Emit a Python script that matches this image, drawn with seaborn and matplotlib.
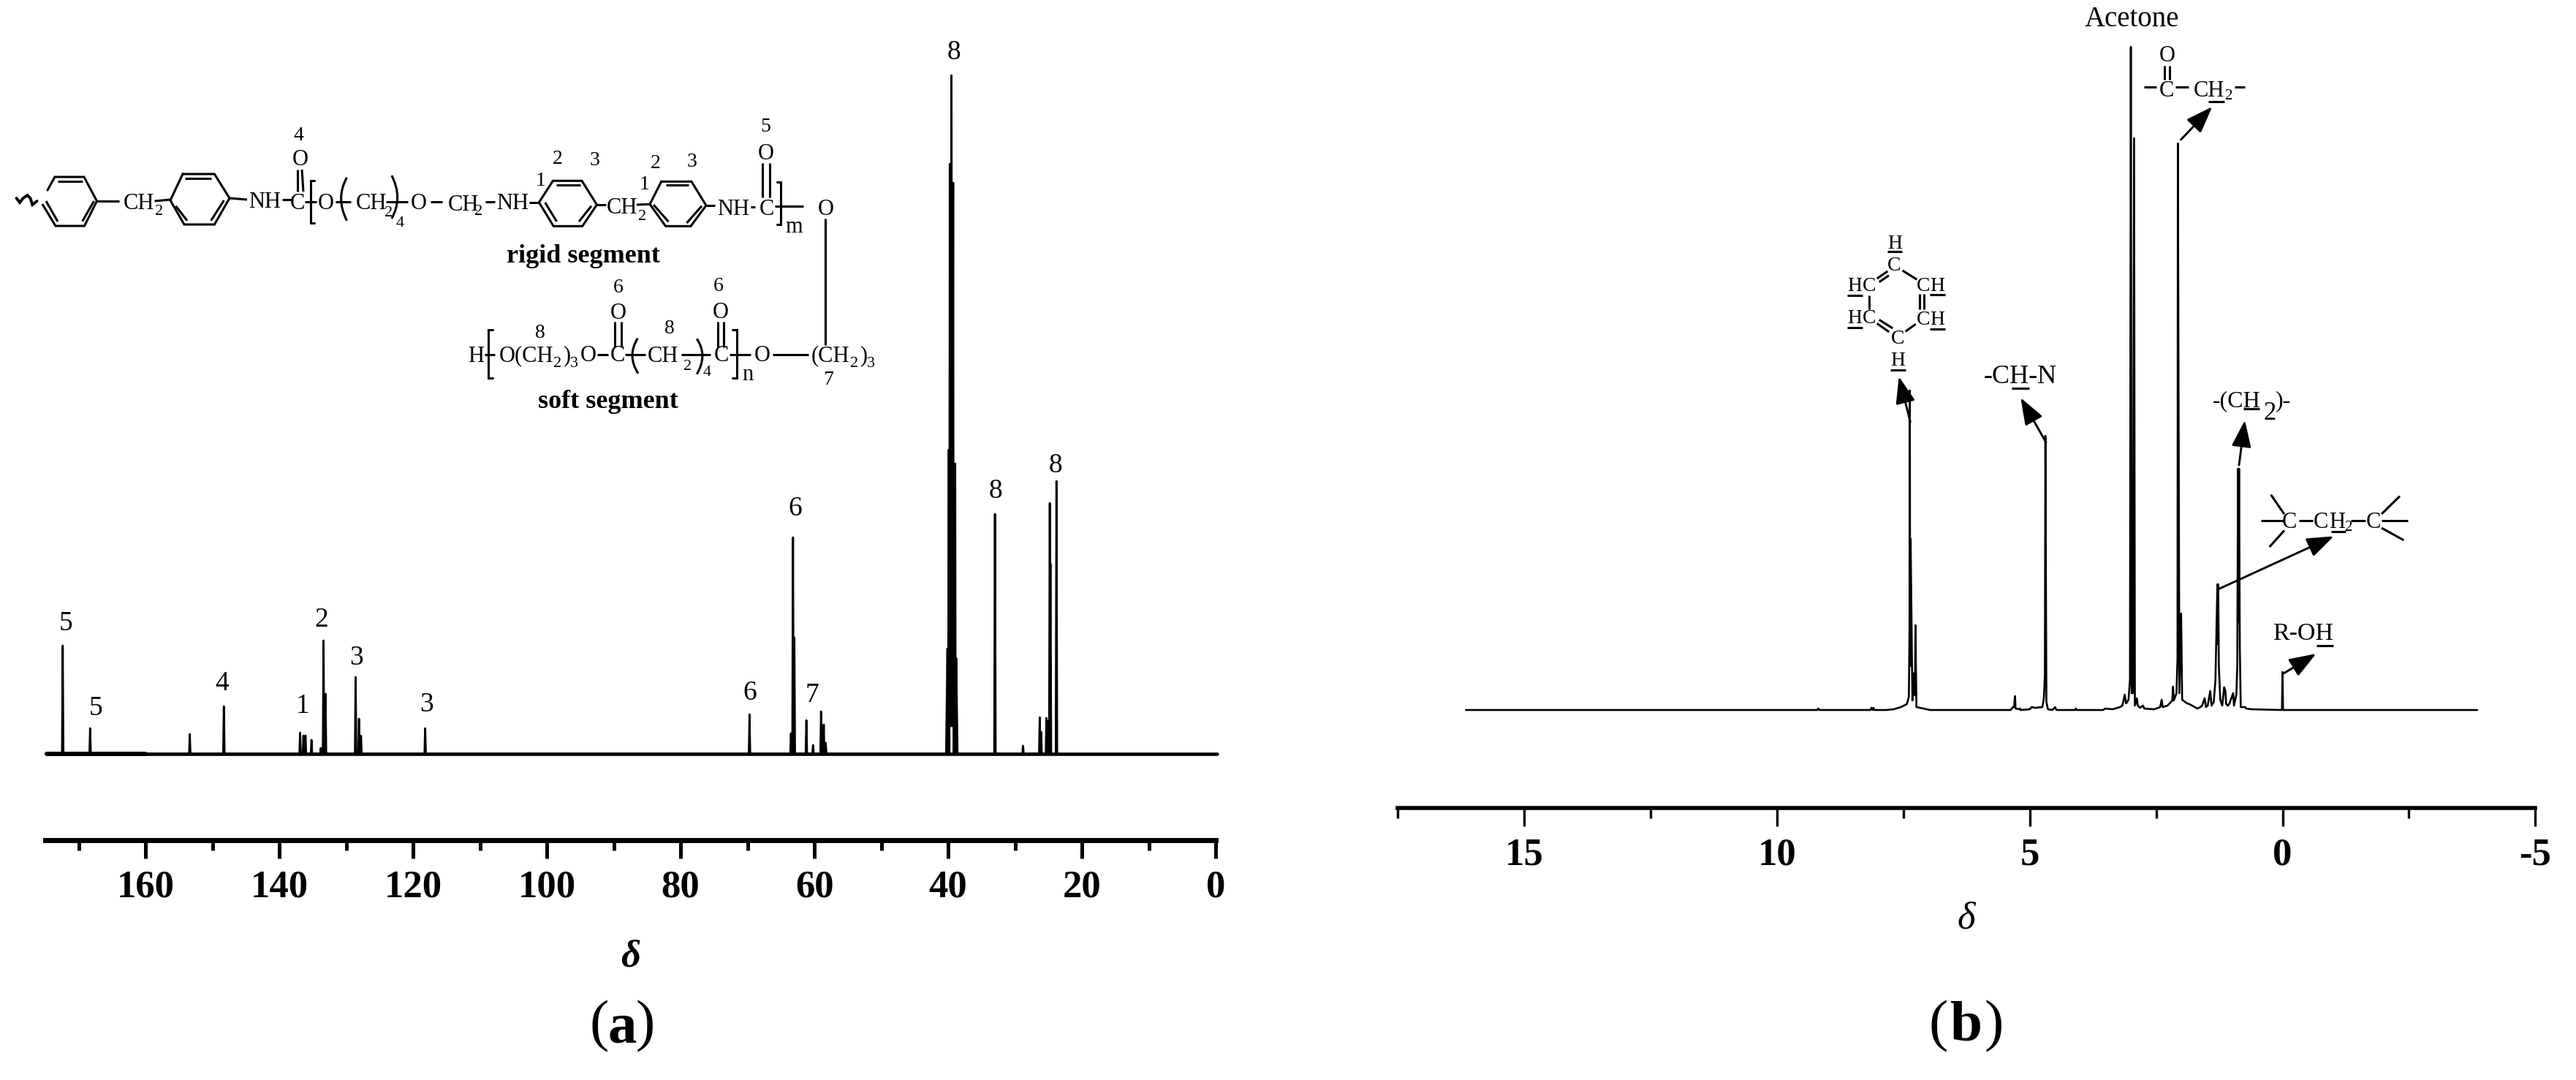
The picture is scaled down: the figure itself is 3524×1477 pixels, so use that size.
import numpy as np
import pandas as pd
import matplotlib
matplotlib.use('Agg')
import matplotlib.pyplot as plt
import seaborn as sns
from matplotlib.path import Path
from matplotlib.patches import PathPatch

W, H = 3524, 1477
SERIF = ['Liberation Serif', 'DejaVu Serif']

# 13C spectrum, sharp lines (ppm, height)
c13_ppm = [172.4, 168.3, 153.4, 148.3, 136.9, 136.4, 136.1, 135.2, 133.8, 133.4, 133.1,
           128.6, 128.1, 127.8, 118.2, 69.7, 63.5, 63.2, 63.0, 61.2, 60.2, 59.0, 58.6, 58.3,
           33.0, 28.8, 26.3, 26.1, 25.3, 25.1, 24.8, 24.7, 23.8]
c13_height = [148, 35, 27, 65, 29, 25, 25, 19, 8, 155, 82,
              105, 48, 25, 35, 54, 28, 296, 159, 46, 12, 58, 40, 15,
              328, 11, 50, 30, 49, 45, 343, 260, 373]

# solvent multiplet of the 13C spectrum, traced point by point
dmso_ppm = [40.3, 40.1, 40.0, 39.9, 39.82, 39.75, 39.62, 39.5, 39.38, 39.25, 39.18, 39.1, 38.95, 38.88, 38.8, 38.6]
dmso_int = [0, 144, 0, 416, 0, 807, 38, 928, 38, 781, 0, 0, 397, 0, 131, 0]

# 1H spectrum traced point by point
h1_ppm = [16.15, 9.2, 9.18, 9.16, 8.15, 8.13, 8.11, 8.09, 8.07, 7.84, 7.69, 7.55, 7.43, 7.39, 7.377, 7.37, 7.365,
          7.355, 7.32, 7.30, 7.28, 7.27, 7.26, 7.24, 7.17, 6.97, 5.38, 5.33, 5.31, 5.29, 5.28, 5.2, 5.19, 5.18,
          5.0, 4.96, 4.90, 4.75, 4.72, 4.70, 4.69, 4.67, 4.64, 4.55, 4.50, 4.47, 4.1, 4.09, 4.07, 3.55,
          3.504, 3.36, 3.215, 3.167, 3.12, 3.095, 3.046, 3.017, 3.0, 2.984, 2.96, 2.936, 2.92, 2.88, 2.864,
          2.816, 2.76, 2.733, 2.54, 2.42, 2.39, 2.37, 2.275, 2.18, 2.165, 2.15, 2.097, 2.077, 2.07, 2.04,
          2.006, 1.985, 1.886, 1.84, 1.684, 1.626, 1.59, 1.54, 1.515, 1.48, 1.43, 1.405, 1.36, 1.327, 1.288,
          1.28, 1.272, 1.26, 1.231, 1.193, 1.154, 1.13, 1.115, 1.08, 1.05, 0.976, 0.96, 0.913, 0.895, 0.88,
          0.872, 0.86, 0.845, 0.826, 0.74, 0.72, 0.613, 0.012, 0.0, -0.01, -3.85]
h1_int = [0, 0, 2, 0, 0, 3, 0, 3, 0, 0, 1, 4, 8, 18, 111, 437, 60,
          234, 13, 46, 51, 20, 116, 4, 3, 0, 0, 4, 4, 19, 2, 1, 2, 0,
          1, 4, 3, 4, 16, 48, 375, 11, 1, 0, 4, 0, 0, 2, 0, 0,
          2, 1, 4, 6, 21, 9, 14, 41, 907, 23, 23, 782, 6, 16, 6,
          3, 6, 2, 1, 4, 14, 4, 6, 13, 32, 13, 23, 71, 775, 23,
          132, 14, 9, 8, 2, 4, 6, 16, 4, 6, 26, 6, 11, 41, 172,
          90, 172, 61, 14, 6, 31, 26, 8, 6, 9, 23, 6, 21, 60, 330,
          120, 330, 84, 4, 4, 2, 1, 0, 52, 0, 0]

c13_major = [160, 140, 120, 100, 80, 60, 40, 20, 0]
c13_minor = [170, 150, 130, 110, 90, 70, 50, 30, 10]
h1_major = [15, 10, 5, 0, -5]
h1_major_labels = ['15', '10', '5', '0', '-5']
h1_minor = [17.5, 12.5, 7.5, 2.5, -2.5]

peak_labels_c13 = [('5', 90, 853), ('5', 131, 969), ('4', 304, 935), ('1', 414, 966), ('2', 440, 848),
                   ('3', 488, 900), ('3', 583, 964), ('6', 1026, 948), ('6', 1088, 696), ('7', 1111, 951),
                   ('8', 1305, 72), ('8', 1362, 672), ('8', 1444, 637)]

sns.set_theme(style='ticks')
plt.rcParams['font.family'] = SERIF
plt.rcParams['axes.edgecolor'] = 'black'
plt.rcParams['xtick.color'] = 'black'
plt.rcParams['text.color'] = 'black'

fig = plt.figure(figsize=(W / 100, H / 100), dpi=100, facecolor='white')


def px_axes(left, right, top, bottom):
    return fig.add_axes([left / W, 1 - bottom / H, (right - left) / W, (bottom - top) / H])


def setup_axis(ax, xlim, ylim, major, labels, minor, spine_w, tick_w):
    ax.set_xlim(*xlim)
    ax.set_ylim(*ylim)
    ax.set_xlabel('')
    ax.set_ylabel('')
    ax.set_yticks([])
    ax.set_xticks(major)
    ax.set_xticklabels(labels, fontsize=38, fontweight='bold')
    ax.set_xticks(minor, minor=True)
    ax.tick_params(axis='x', which='major', length=18, width=tick_w, pad=11.5)
    ax.tick_params(axis='x', which='minor', length=10.4, width=tick_w)
    ax.patch.set_alpha(0)
    sns.despine(ax=ax, left=True)
    ax.spines['bottom'].set_linewidth(spine_w)


def draw_trace(ax, x, y, lw):
    df = pd.DataFrame({'ppm': x, 'intensity': y})
    sns.lineplot(data=df, x='ppm', y='intensity', ax=ax, color='black', linewidth=lw,
                 estimator=None, sort=False, errorbar=None, clip_on=False)


# panel a
ax_a = px_axes(62, 1663, 60, 1149)
draw_trace(ax_a, [174.8, 160], [0, 0], 4.3)
draw_trace(ax_a, [160, -0.2], [0, 0], 3.3)
foot = 0.1
spike_x = np.ravel([[p + foot, p, p - foot] for p in c13_ppm])
spike_y = np.ravel([[0, h, 0] for h in c13_height])
draw_trace(ax_a, spike_x, spike_y, 2.0)
draw_trace(ax_a, dmso_ppm, dmso_int, 2.0)
setup_axis(ax_a, (175, 0), (-118, 971), c13_major, [str(v) for v in c13_major], c13_minor, 5, 3.6)

# panel b
ax_b = px_axes(1912, 3468.4, 40, 1104.6)
draw_trace(ax_b, h1_ppm, h1_int, 1.9)
setup_axis(ax_b, (17.5, -5), (-133.6, 931), h1_major, h1_major_labels, h1_minor, 4, 2.4)

# annotation layer in picture pixels
ov = fig.add_axes([0, 0, 1, 1])
ov.set_xlim(0, W)
ov.set_ylim(H, 0)
ov.axis('off')
ov.patch.set_alpha(0)


def T(x, y, s, size=22, **kw):
    ov.text(x, y, s, fontsize=size, ha=kw.pop('ha', 'center'), va='center', **kw)


def bonds(segs, lw=2.2):
    for (x0, y0, x1, y1) in segs:
        ov.plot([x0, x1], [y0, y1], color='black', lw=lw, solid_capstyle='butt')


def poly(pts, lw=2.2):
    ov.plot([p[0] for p in pts], [p[1] for p in pts], color='black', lw=lw, solid_joinstyle='miter')


def paren(p0, m, p2, lw=2.2):
    c = (2 * m[0] - 0.5 * (p0[0] + p2[0]), 2 * m[1] - 0.5 * (p0[1] + p2[1]))
    ov.add_patch(PathPatch(Path([p0, c, p2], [Path.MOVETO, Path.CURVE3, Path.CURVE3]),
                           fill=False, lw=lw, color='black'))


def arrow(x0, y0, x1, y1):
    ov.annotate('', xy=(x1, y1), xytext=(x0, y0),
                arrowprops=dict(arrowstyle='-|>,head_length=1.5,head_width=0.55', mutation_scale=15,
                                lw=2.1, color='black', shrinkA=0, shrinkB=0))


for s, x, y in peak_labels_c13:
    T(x, y, s, 27)

# structure, first line
poly([(65, 260), (75, 242), (115, 242), (132.5, 275), (115.5, 309), (76, 309), (58.5, 280)])
poly([(250, 238), (293.4, 238), (314, 271), (293.4, 307), (252, 307), (233, 274), (250, 238)])
poly([(756.4, 247.3), (796, 247.3), (816.5, 280), (796.7, 309.3), (757.2, 309.3), (737.4, 276.7), (756.4, 247.3)])
poly([(904.7, 248.3), (946, 248.3), (966, 281), (945, 309.3), (910.6, 309.3), (889, 279.3), (904.7, 248.3)])
poly([(22.5, 271), (27, 277), (31.6, 271), (37.5, 267), (41.5, 271), (44.3, 280), (50.6, 275)], lw=2.8)
bonds([(79, 248, 113, 248), (63, 275, 79, 303), (128.5, 275, 112.7, 302.7),
       (132.5, 275, 163, 275), (211.5, 275, 233, 273),
       (253, 244, 289.4, 244), (240.4, 281.7, 256, 301.7), (306.4, 274, 288.6, 301.7),
       (314, 271, 338, 273), (385.5, 272.7, 399.4, 272.7),
       (407, 232, 407, 262), (413, 232, 415, 262), (417, 276, 433, 276),
       (458.7, 276, 480, 276), (528, 276, 558, 276), (589, 276, 605, 276), (664, 276, 676.5, 276),
       (723.6, 276.7, 736.6, 276.7),
       (761, 253, 794, 253), (745.7, 277, 761.6, 303), (809, 281.7, 792, 303),
       (816.5, 280, 829, 280), (871, 280, 889, 279.3),
       (910.6, 253.3, 942.3, 253.3), (894, 280, 914.6, 303.3), (960, 281.7, 939.5, 305),
       (966, 281, 977.8, 281), (1026.5, 283.3, 1033, 283.3),
       (1043, 223.3, 1043, 270), (1053, 223.3, 1053, 270), (1059.7, 281.7, 1099.2, 281.7),
       (1129.3, 299.3, 1129.3, 471.7)])
poly([(430, 247), (425, 247), (425, 305), (430, 305)])
poly([(1062.9, 249.3), (1067.6, 249.3), (1067.6, 306.7), (1062.9, 306.7)])
paren((474.5, 242.7), (466.6, 271.7), (474.5, 301.7))
paren((535.8, 240), (543.7, 270), (535.8, 299))
for x, y, s in [(190, 278, 'CH'), (362, 276, 'NH'), (407, 278, 'C'), (410.4, 218, 'O'), (445.6, 279, 'O'),
                (508, 279, 'CH'), (573, 279, 'O'), (634, 280, 'CH'), (701, 279, 'NH'), (851, 285, 'CH'),
                (1002.8, 286, 'NH'), (1049, 286, 'C'), (1047.9, 210, 'O'), (1086.6, 310, 'm'), (1129.3, 286, 'O'),
                (651.6, 487.3, 'H'), (845.4, 486.7, 'C'), (846.2, 428.3, 'O'), (906.7, 487.3, 'CH'),
                (986.5, 486.7, 'C'), (985.8, 427.7, 'O'), (1023.3, 513, 'n'), (1042.3, 486.7, 'O'),
                (775, 486.7, ')'), (805, 486.7, 'O'), (1180.7, 486.7, ')')]:
    T(x, y, s)
T(682.5, 486.7, 'O(CH', ha='left')
T(1109.5, 486.7, '(CH', ha='left')
for x, y, s in [(217.5, 290, '2'), (532, 291.7, '2'), (547, 305, '4'), (655, 289, '2'), (879, 296.7, '2'),
                (763, 497.7, '2'), (785, 497.7, '3'), (940.3, 501.7, '2'), (966.8, 510, '4'),
                (1168.8, 497.7, '2'), (1191.4, 497.7, '3')]:
    T(x, y, s, 16)
for x, y, s in [(408.8, 185, '4'), (1047.3, 174, '5'), (763, 218, '2'), (813.7, 219, '3'), (739.4, 247, '1'),
                (896.8, 223.3, '2'), (946.6, 221.7, '3'), (881.8, 252.7, '1'),
                (738.6, 456, '8'), (845.4, 393.3, '6'), (915.8, 450, '8'), (982.6, 391, '6'), (1132.9, 520, '7')]:
    T(x, y, s, 20)
T(798, 350.7, 'rigid segment', 26, fontweight='bold')
T(831.5, 550, 'soft segment', 26, fontweight='bold')

# structure, second line
bonds([(662.7, 485, 677.3, 485), (816.5, 485, 831.5, 485),
       (841.4, 440, 841.4, 475), (850, 440, 850, 475), (855.3, 485, 883, 485),
       (932.4, 485, 972, 485), (981.8, 440, 981.8, 475), (990, 440, 990, 475),
       (997.6, 485, 1027.3, 485), (1057, 485, 1105.6, 485)])
poly([(674, 450.7), (668, 450.7), (668, 516.7), (674, 516.7)])
poly([(1001.6, 450.7), (1007.5, 450.7), (1007.5, 516.7), (1001.6, 516.7)])
paren((872.3, 462.7), (865, 486.7), (873, 510.7))
paren((953.3, 463.3), (960.9, 486.7), (953.3, 511.7))

# panel captions
T(863, 1309, 'δ', 38, fontweight='bold', fontstyle='italic')
T(2690, 1257, 'δ', 38, fontstyle='italic')
T(819.5, 1404, '(', 57)
T(851.5, 1407, 'a', 57, fontweight='bold')
T(883, 1404, ')', 57)
T(2652, 1404, '(', 57)
T(2690, 1404, 'b', 57, fontweight='bold')
T(2728, 1404, ')', 57)

# panel b group labels
T(2916.6, 27, 'Acetone', 28)
T(2964.4, 77, 'O')
T(2964.4, 124, 'C')
T(3022, 124, 'CH')
T(3048, 132, '2', 15)
bonds([(2961, 90.4, 2961, 108.5), (2967.6, 90.4, 2967.6, 108.5), (2932.5, 119.2, 2949.7, 119.2),
       (2976, 119.2, 2994.4, 119.2), (3056.9, 119.2, 3071, 119.2), (3020.5, 138.6, 3043, 138.6)])
arrow(2983.5, 191, 3026.3, 146)

for x, y, s in [(2592.3, 333, 'H'), (2591, 363, 'C'), (2537.7, 392, 'H'), (2556.7, 392, 'C'),
                (2537.7, 436, 'H'), (2556.7, 436, 'C'), (2631, 391, 'C'), (2650, 391, 'H'),
                (2631, 438, 'C'), (2650, 437, 'H'), (2596, 463, 'C'), (2596.7, 493, 'H')]:
    T(x, y, s, 20)
bonds([(2582.3, 344.3, 2602.3, 344.3), (2527.3, 404, 2547.7, 404), (2527.3, 447.7, 2547.7, 447.7),
       (2640, 403.3, 2660.7, 403.3), (2640, 450, 2660.7, 450), (2586, 505.7, 2606.7, 505.7),
       (2567.7, 381, 2582.3, 371), (2570.7, 385.7, 2584, 376.7), (2602.7, 370, 2622.3, 382.3),
       (2556.7, 404, 2556.7, 422.7), (2626, 401.7, 2626, 423.3), (2631.7, 401.7, 2631.7, 423.3),
       (2570.7, 437.3, 2589.3, 449), (2567.7, 442.3, 2584.3, 454), (2606.7, 453.3, 2620.7, 443.3)])
arrow(2613.3, 576.7, 2597.7, 515)

T(2764, 515, '-CH-N', 26)
bonds([(2751.7, 531, 2776, 531)])
arrow(2799, 605, 2764.3, 544)

T(3027, 549, '-(CH', 23, ha='left')
T(3105, 566, '2', 25)
T(3124, 549, ')-', 23)
bonds([(3069, 559, 3091, 559)])
arrow(3063, 636, 3071, 574.7)

for x, s in [(3132, 'C'), (3175, 'C'), (3197, 'H'), (3247, 'C')]:
    T(x, 715, s)
T(3212, 722, '2', 15)
bonds([(3093, 712, 3124, 712), (3106.6, 676.5, 3125, 703.3), (3104.7, 748, 3125, 725.4),
       (3145, 712, 3164, 712), (3189, 726.7, 3208.7, 726.7), (3216, 712, 3235.5, 712),
       (3258, 712, 3294, 712), (3258, 703, 3283, 678.5), (3258, 722, 3288.4, 738.8)])
arrow(3034.6, 805.8, 3192.7, 733.4)

T(3151, 867, 'R-OH', 24.5)
bonds([(3168.5, 883, 3192, 883)])
arrow(3124, 921, 3168.5, 894)

ov.set_xlim(0, W)
ov.set_ylim(H, 0)
fig.savefig('out.png', dpi=100, facecolor='white')
